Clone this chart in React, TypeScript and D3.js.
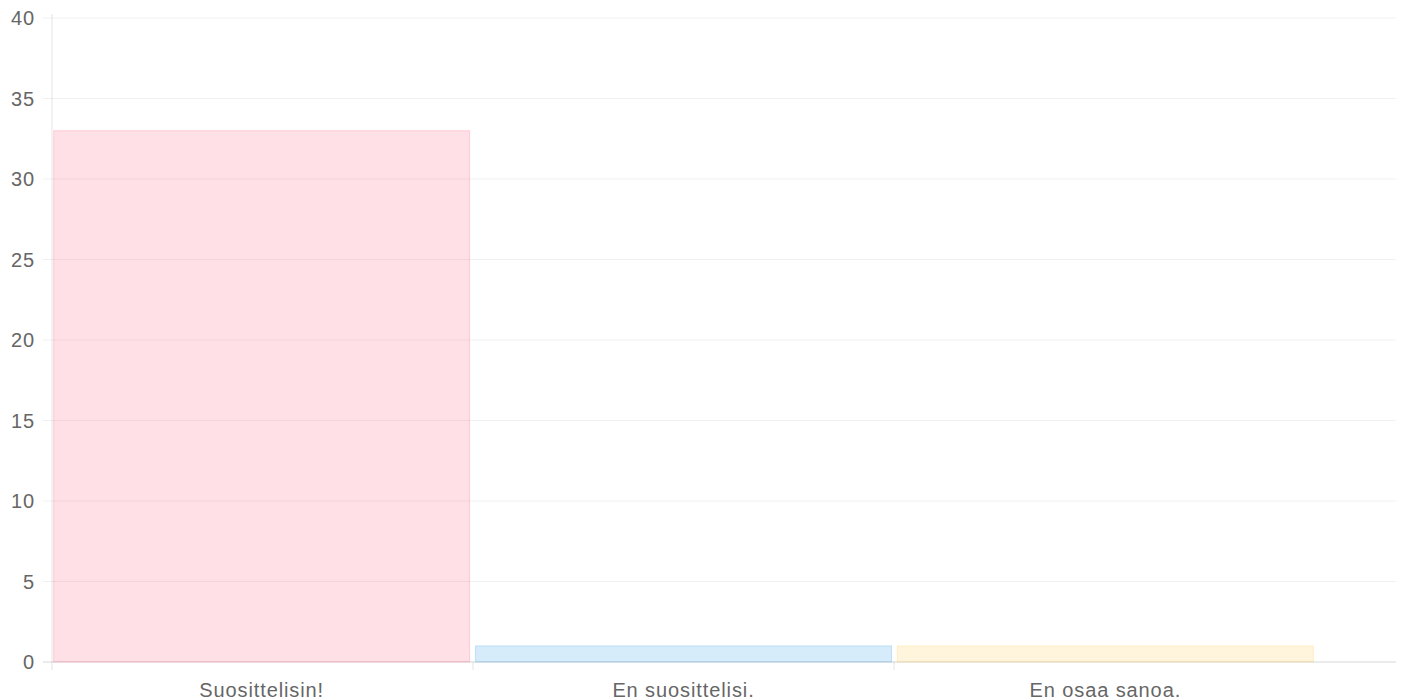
import { useEffect } from 'react';
import * as d3 from 'd3';

const categories = ['Suosittelisin!', 'En suosittelisi.', 'En osaa sanoa.'];
const counts = [33, 1, 1];
const yTicks = [0, 5, 10, 15, 20, 25, 30, 35, 40];
const fills = ['rgba(255, 99, 132, 0.2)', 'rgba(54, 162, 235, 0.2)', 'rgba(255, 206, 86, 0.2)'];
const strokes = ['rgba(255, 99, 132, 0.25)', 'rgba(54, 162, 235, 0.25)', 'rgba(255, 206, 86, 0.25)'];

const width = 1404;
const height = 700;
const left = 52;
const right = 1396;
const top = 18;
const bottom = 662;
const bandW = 421;

export default function App() {
  useEffect(() => {
    document.body.style.margin = '0';
  }, []);

  const x = d3
    .scaleBand<string>()
    .domain(categories)
    .range([left, left + bandW * categories.length])
    .paddingInner(0.014)
    .paddingOuter(0.004);

  const y = d3.scaleLinear().domain([0, 40]).range([bottom, top]);

  const labelStyle = {
    fontFamily: '"Liberation Sans", Arial, sans-serif',
    fontSize: '20px',
    letterSpacing: '0.9px',
  };

  return (
    <svg width={width} height={height} style={{ display: 'block', background: '#fff' }}>
      {yTicks.map((t) => (
        <g key={t}>
          <line x1={left - 9} x2={right} y1={y(t)} y2={y(t)} stroke="rgba(0,0,0,0.06)" />
          <text x={35} y={y(t)} textAnchor="end" dominantBaseline="central" fill="#666" style={labelStyle}>
            {t}
          </text>
        </g>
      ))}
      {categories.map((c, i) => (
        <rect
          key={c}
          x={x(c)}
          y={y(counts[i])}
          width={x.bandwidth()}
          height={bottom - y(counts[i])}
          fill={fills[i]}
          stroke={strokes[i]}
          strokeWidth={1}
        />
      ))}
      <line x1={left} x2={left} y1={top - 4} y2={bottom + 8} stroke="rgba(0,0,0,0.1)" />
      <line x1={left - 9} x2={right} y1={bottom} y2={bottom} stroke="rgba(0,0,0,0.1)" />
      {categories.map((c, i) => (
        <g key={c}>
          {i > 0 && (
            <line
              x1={left + bandW * i}
              x2={left + bandW * i}
              y1={bottom}
              y2={bottom + 8}
              stroke="rgba(0,0,0,0.1)"
            />
          )}
          <text
            x={(x(c) ?? 0) + x.bandwidth() / 2}
            y={690}
            textAnchor="middle"
            dominantBaseline="central"
            fill="#666"
            style={labelStyle}
          >
            {c}
          </text>
        </g>
      ))}
    </svg>
  );
}
